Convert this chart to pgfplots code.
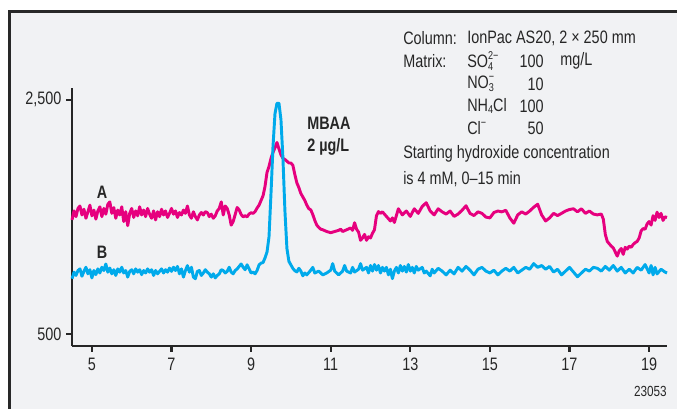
\documentclass[border=0pt]{standalone}
\usepackage{fontspec}
\setmainfont{Liberation Sans}[FakeStretch=0.80]
\usepackage{pgfplots}
\usepackage{pgfplotstable}
\pgfplotsset{compat=1.18}
\definecolor{magA}{RGB}{230,0,126}
\definecolor{cyB}{RGB}{0,170,235}
\definecolor{bgc}{RGB}{241,242,244}
\definecolor{frm}{RGB}{40,40,40}
\newcommand{\fs}{\fontsize{13.5}{16}\selectfont}
\newcommand{\scr}{\fontsize{8.5}{10}\selectfont}
\newcommand{\subsup}[2]{\rlap{\raisebox{-0.3ex}{\scr #1}}\raisebox{0.85ex}{\scr #2}}
\newcommand{\subr}[1]{\raisebox{-0.3ex}{\scr #1}}
\newcommand{\supr}[1]{\raisebox{0.85ex}{\scr #1}}

\pgfplotstableread{
x y
4.50 1474
4.55 1551
4.60 1502
4.65 1572
4.70 1593
4.75 1516
4.80 1565
4.85 1488
4.90 1544
4.95 1600
5.00 1509
5.05 1558
5.10 1481
5.15 1551
5.20 1586
5.25 1502
5.30 1572
5.35 1523
5.40 1607
5.45 1628
5.50 1530
5.55 1579
5.60 1488
5.65 1558
5.70 1516
5.75 1586
5.80 1460
5.85 1544
5.90 1425
5.95 1530
6.00 1572
6.05 1495
6.10 1551
6.15 1509
6.20 1586
6.25 1516
6.30 1558
6.35 1502
6.40 1572
6.45 1523
6.50 1488
6.55 1551
6.60 1474
6.65 1544
6.70 1502
6.75 1565
6.80 1516
6.85 1551
6.90 1495
6.95 1530
7.00 1572
7.05 1523
7.10 1551
7.15 1495
7.20 1537
7.25 1516
7.30 1558
7.35 1530
7.40 1593
7.45 1516
7.50 1488
7.55 1544
7.60 1502
7.65 1474
7.70 1516
7.75 1537
7.80 1516
7.85 1544
7.90 1537
7.95 1502
8.00 1523
8.05 1488
8.10 1509
8.15 1551
8.20 1572
8.25 1628
8.30 1516
8.35 1593
8.40 1572
8.45 1516
8.50 1430
8.55 1460
8.60 1520
8.65 1580
8.70 1560
8.75 1520
8.80 1500
8.85 1510
8.90 1500
8.95 1525
9.00 1535
9.05 1530
9.10 1545
9.15 1575
9.20 1600
9.25 1640
9.30 1680
9.35 1760
9.40 1880
9.45 1930
9.50 2000
9.55 2050
9.60 2090
9.65 2135
9.70 2080
9.75 2030
9.80 2000
9.85 1990
9.90 1975
9.95 1960
10.00 1960
10.05 1940
10.10 1860
10.15 1790
10.20 1750
10.25 1700
10.30 1670
10.35 1640
10.40 1600
10.45 1570
10.50 1560
10.55 1520
10.60 1470
10.65 1430
10.70 1410
10.75 1395
10.80 1390
10.90 1375
11.00 1365
11.10 1375
11.20 1385
11.25 1395
11.30 1375
11.40 1390
11.50 1405
11.55 1385
11.60 1450
11.65 1395
11.70 1370
11.75 1300
11.80 1320
11.85 1350
11.90 1300
11.95 1330
12.00 1320
12.05 1360
12.10 1390
12.15 1510
12.20 1545
12.25 1530
12.30 1543
12.40 1504
12.50 1465
12.55 1491
12.60 1452
12.70 1569
12.80 1517
12.90 1550
13.00 1504
13.10 1569
13.20 1530
13.30 1589
13.40 1621
13.50 1550
13.60 1517
13.70 1569
13.80 1543
13.90 1524
14.00 1550
14.10 1504
14.20 1524
14.30 1556
14.40 1595
14.50 1530
14.60 1511
14.70 1543
14.80 1530
14.90 1498
15.00 1491
15.10 1537
15.20 1550
15.30 1543
15.40 1556
15.50 1491
15.60 1446
15.70 1517
15.80 1543
15.90 1524
16.00 1550
16.10 1582
16.20 1608
16.30 1517
16.40 1465
16.50 1491
16.60 1530
16.70 1511
16.80 1530
16.90 1550
17.00 1563
17.10 1569
17.20 1543
17.30 1569
17.40 1530
17.50 1550
17.60 1524
17.70 1517
17.80 1524
17.85 1480
17.90 1350
17.95 1290
18.00 1270
18.05 1250
18.10 1235
18.15 1200
18.20 1165
18.25 1210
18.30 1230
18.35 1180
18.40 1240
18.45 1225
18.50 1250
18.55 1240
18.60 1265
18.65 1280
18.70 1290
18.75 1320
18.80 1380
18.85 1400
18.90 1395
18.95 1440
19.00 1460
19.05 1430
19.10 1510
19.15 1470
19.20 1540
19.25 1495
19.30 1530
19.35 1470
19.40 1500
19.45 1495
}\dataA

\pgfplotstableread{
x y
4.50 972
4.55 1028
4.60 1000
4.65 1042
4.70 1056
4.75 993
4.80 1035
4.85 1070
4.90 1014
4.95 1049
5.00 979
5.05 1042
5.10 1007
5.15 1056
5.20 1021
5.25 1070
5.30 1042
5.35 1098
5.40 1028
5.45 1063
5.50 1014
5.55 1049
5.60 1000
5.65 1056
5.70 1028
5.75 1070
5.80 1021
5.85 1042
5.90 986
5.95 1035
6.00 1049
6.05 1014
6.10 1056
6.15 1028
6.20 1049
6.25 1007
6.30 1042
6.35 1021
6.40 1056
6.45 1028
6.50 1049
6.55 1000
6.60 1042
6.65 1014
6.70 1035
6.75 1056
6.80 1021
6.85 1049
6.90 1028
6.95 1063
7.00 1035
7.05 1070
7.10 1042
7.15 1077
7.20 1014
7.25 1056
7.30 986
7.35 1042
7.40 1084
7.45 1028
7.50 1070
7.55 986
7.60 972
7.65 1035
7.70 1042
7.75 1000
7.80 1021
7.85 1049
7.90 1028
7.95 1014
8.00 986
8.05 1014
8.10 979
8.15 1000
8.20 1014
8.25 1049
8.30 1042
8.35 1021
8.40 1035
8.45 1070
8.50 1028
8.55 1014
8.60 1042
8.65 1056
8.70 1077
8.75 1098
8.80 1070
8.85 1049
8.90 1091
8.95 1056
9.00 1021
9.05 1028
9.10 1014
9.15 1042
9.20 1090
9.25 1105
9.30 1110
9.35 1150
9.40 1200
9.45 1330
9.50 1700
9.55 2100
9.60 2380
9.65 2470
9.70 2470
9.75 2330
9.80 2000
9.85 1550
9.90 1230
9.95 1120
10.00 1090
10.05 1060
10.10 1040
10.15 1030
10.20 1061
10.25 1037
10.30 997
10.35 1021
10.40 1005
10.50 1045
10.55 1069
10.60 1021
10.70 1037
10.80 1005
10.90 1021
11.00 1045
11.05 1101
11.10 1037
11.20 1005
11.30 1037
11.35 1085
11.40 1037
11.50 1021
11.55 1069
11.60 1029
11.70 1053
11.75 1101
11.80 1045
11.90 1069
11.95 1021
12.00 1085
12.05 1037
12.10 1093
12.15 1045
12.20 1085
12.25 1021
12.30 1069
12.35 1037
12.40 1069
12.45 1005
12.50 1053
12.55 973
12.60 1037
12.65 1069
12.70 1021
12.75 1085
12.80 1037
12.85 1077
12.90 1029
12.95 1093
13.00 1037
13.05 1069
13.10 1021
13.15 1077
13.20 1045
13.30 1069
13.35 1021
13.40 1037
13.50 997
13.55 1053
13.60 1021
13.70 1061
13.80 1037
13.90 1005
14.00 1045
14.10 1013
14.20 1069
14.30 1037
14.40 1077
14.50 1045
14.60 1005
14.70 1053
14.80 1069
14.90 1037
15.00 1021
15.10 1045
15.20 1005
15.30 1037
15.40 1061
15.50 1037
15.60 1069
15.70 1021
15.80 1045
15.90 1069
16.00 1053
16.10 1101
16.20 1069
16.30 1085
16.40 1053
16.50 1077
16.60 1029
16.70 1053
16.80 1005
16.90 1037
17.00 1069
17.10 1029
17.20 989
17.30 1021
17.40 1053
17.50 1037
17.60 1069
17.70 1061
17.80 1037
17.90 1077
18.00 1045
18.10 1085
18.20 1037
18.30 1069
18.40 1021
18.50 1053
18.60 1021
18.70 1069
18.80 1045
18.90 1093
19.00 1021
19.05 1085
19.10 1005
19.15 1069
19.20 1013
19.30 1053
19.40 1029
19.45 1021
}\dataB

\begin{document}
\begin{tikzpicture}
\begin{scope}[x=0.75pt,y=-0.75pt,yshift=306pt]
\useasboundingbox (0,0) rectangle (677,408);
\fill[white] (0,0) rectangle (677,408);
\fill[bgc] (9.5,11.5) rectangle (690,420);
\draw[frm,line width=2.3pt] (9.5,420) -- (9.5,11.5) -- (690,11.5);
\end{scope}

\begin{axis}[
  at={(54pt,46.7pt)}, anchor=south west,
  width=446.25pt, height=193.3pt, scale only axis,
  xmin=4.5, xmax=19.45, ymin=400, ymax=2600,
  axis x line=bottom, axis y line=left,
  axis line style={-, line width=1.6pt, black!85},
  xtick={5,7,...,19}, ytick={500,2500},
  tick align=outside, major tick length=4.5pt,
  tick style={line width=1.6pt, black!85},
  /pgf/number format/assume math mode=true,
  /pgf/number format/1000 sep={,},
  tick label style={font=\fs, text=black!85},
  xticklabel style={yshift=-1pt},
  clip=false,
]
\addplot[magA, line width=2.2pt, line join=round] table[x=x,y=y] {\dataA};
\addplot[cyB, line width=2.2pt, line join=round] table[x=x,y=y] {\dataB};
\end{axis}

\begin{scope}[x=0.75pt,y=-0.75pt,yshift=306pt, every node/.style={font=\fs, text=black!85, inner sep=0pt}]
\node[font=\fs\bfseries] at (102,192) {A};
\node[font=\fs\bfseries] at (102,252) {B};
\node[font=\fs\bfseries, anchor=west] at (307,123) {MBAA};
\node[font=\fs\bfseries, anchor=west] at (307,147) {2 µg/L};
\node[anchor=west] at (403,38) {Column:};
\node[anchor=west] at (467,38) {IonPac AS20, 2 × 250 mm};
\node[anchor=west] at (403,61) {Matrix:};
\node[anchor=west] at (467,61) {SO\subsup{4}{2−}};
\node[anchor=east] at (544,61) {100};
\node[anchor=west] at (560,61) {mg/L};
\node[anchor=west] at (467,84) {NO\subsup{3}{−}};
\node[anchor=east] at (544,84) {10};
\node[anchor=west] at (467,106) {NH\subr{4}Cl};
\node[anchor=east] at (544,106) {100};
\node[anchor=west] at (467,128) {Cl\supr{−}};
\node[anchor=east] at (544,128) {50};
\node[anchor=west] at (403,154) {Starting hydroxide concentration};
\node[anchor=west] at (403,179) {is 4 mM, 0–15 min};
\node[anchor=east, font=\fontsize{11}{13}\selectfont] at (667,391) {23053};
\end{scope}
\end{tikzpicture}
\end{document}
